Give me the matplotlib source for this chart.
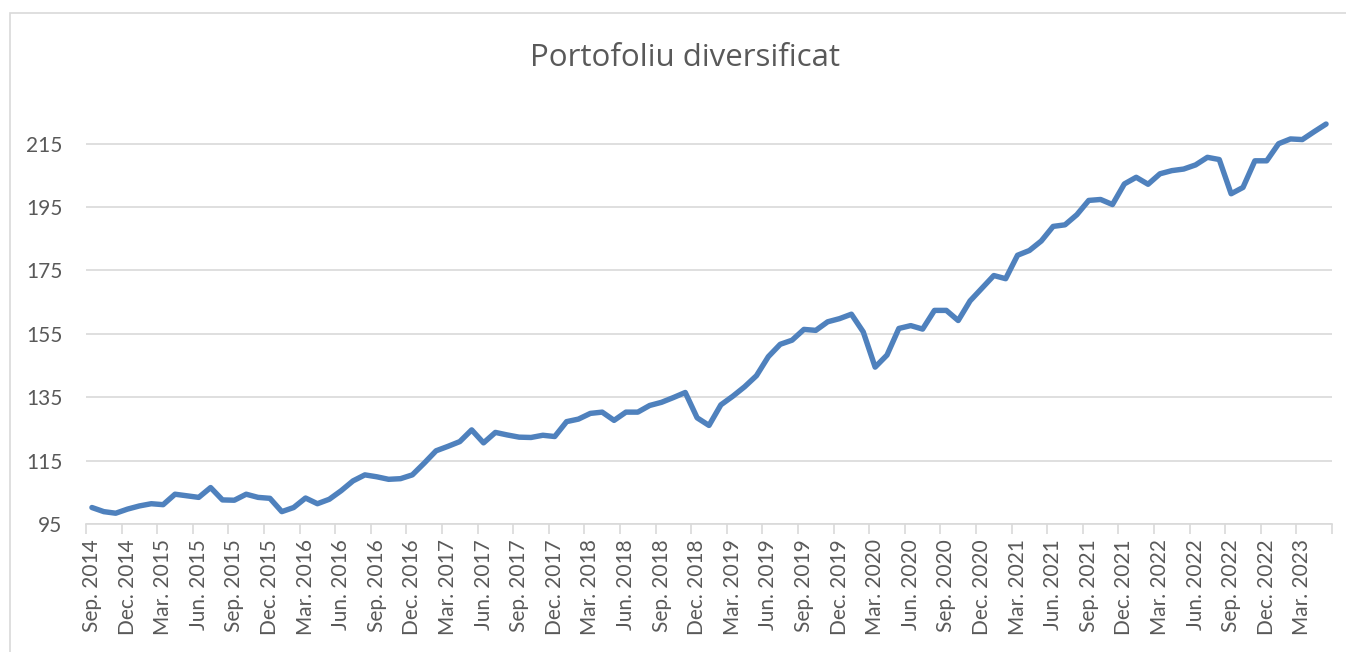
import numpy as np
import matplotlib.pyplot as plt
from matplotlib.patches import Rectangle

plt.rcParams['font.family'] = ['Lato', 'DejaVu Sans']

# ===> data, monthly Sep. 2014 - May 2023
values = [100.2, 98.9, 98.4, 99.7, 100.7, 101.4, 101.1, 104.4, 103.9, 103.4,
          106.5, 102.6, 102.5, 104.4, 103.4, 103.1, 98.9, 100.2, 103.2, 101.4,
          102.8, 105.5, 108.6, 110.5, 109.9, 109.1, 109.3, 110.5, 114.2, 118.1,
          119.5, 121.0, 124.7, 120.6, 123.9, 123.1, 122.4, 122.3, 123.0, 122.6,
          127.3, 128.1, 129.9, 130.3, 127.7, 130.3, 130.3, 132.4, 133.4, 134.9,
          136.5, 128.5, 126.1, 132.6, 135.3, 138.3, 141.8, 147.8, 151.7, 153.0,
          156.4, 156.1, 158.8, 159.8, 161.2, 155.6, 144.5, 148.3, 156.7, 157.6,
          156.5, 162.4, 162.4, 159.2, 165.4, 169.4, 173.4, 172.4, 179.8, 181.3,
          184.3, 188.9, 189.4, 192.6, 197.1, 197.4, 195.8, 202.3, 204.4, 202.2,
          205.5, 206.5, 207.0, 208.3, 210.7, 210.0, 199.2, 201.2, 209.6, 209.6,
          215.0, 216.5, 216.3, 218.8, 221.2]

tick_labels = ['Sep. 2014', 'Dec. 2014', 'Mar. 2015', 'Jun. 2015', 'Sep. 2015',
               'Dec. 2015', 'Mar. 2016', 'Jun. 2016', 'Sep. 2016', 'Dec. 2016',
               'Mar. 2017', 'Jun. 2017', 'Sep. 2017', 'Dec. 2017', 'Mar. 2018',
               'Jun. 2018', 'Sep. 2018', 'Dec. 2018', 'Mar. 2019', 'Jun. 2019',
               'Sep. 2019', 'Dec. 2019', 'Mar. 2020', 'Jun. 2020', 'Sep. 2020',
               'Dec. 2020', 'Mar. 2021', 'Jun. 2021', 'Sep. 2021', 'Dec. 2021',
               'Mar. 2022', 'Jun. 2022', 'Sep. 2022', 'Dec. 2022', 'Mar. 2023']

yticks = [95, 115, 135, 155, 175, 195, 215]

txt = '#595959'
grid = '#d9d9d9'

fig = plt.figure(figsize=(13.46, 6.52), dpi=100)
fig.patches.append(Rectangle((10/1346, -0.2), 2, 1.2 - 13/652, transform=fig.transFigure,
                             fill=False, edgecolor=grid, lw=1.2))
ax = fig.add_axes([86/1346, 1 - 524/652, 1246/1346, (524 - 112)/652])

x = np.arange(len(values))
ax.plot(x, values, color='#4f81bd', lw=3.9, solid_joinstyle='round', solid_capstyle='round')

ax.set_xlim(-0.5, len(values) - 0.5)
ax.set_ylim(95, 225)
ax.set_yticks(yticks)
ax.tick_params(axis='y', length=0, pad=17, labelsize=15, labelcolor=txt)
ax.yaxis.grid(True, color=grid, lw=1.2)
ax.set_axisbelow(True)

# ticks between categories, labels on category
ax.set_xticks(np.arange(-0.5, len(values), 3))
ax.set_xticklabels([])
ax.set_xticks(np.arange(0, len(values), 3), minor=True)
ax.set_xticklabels(tick_labels, minor=True, rotation=90)
ax.tick_params(axis='x', which='major', length=7, width=1.2, color=grid)
ax.tick_params(axis='x', which='minor', length=0, pad=11, labelsize=15, labelcolor=txt)

for s in ['top', 'right', 'left']:
    ax.spines[s].set_visible(False)
ax.spines['bottom'].set_color(grid)
ax.spines['bottom'].set_linewidth(1.2)

fig.text(685/1346, 1 - 66/652, 'Portofoliu diversificat', ha='center', va='baseline',
         fontsize=22.5, color=txt, family=['Open Sans', 'DejaVu Sans'])

fig.savefig('out.png', dpi=100)
